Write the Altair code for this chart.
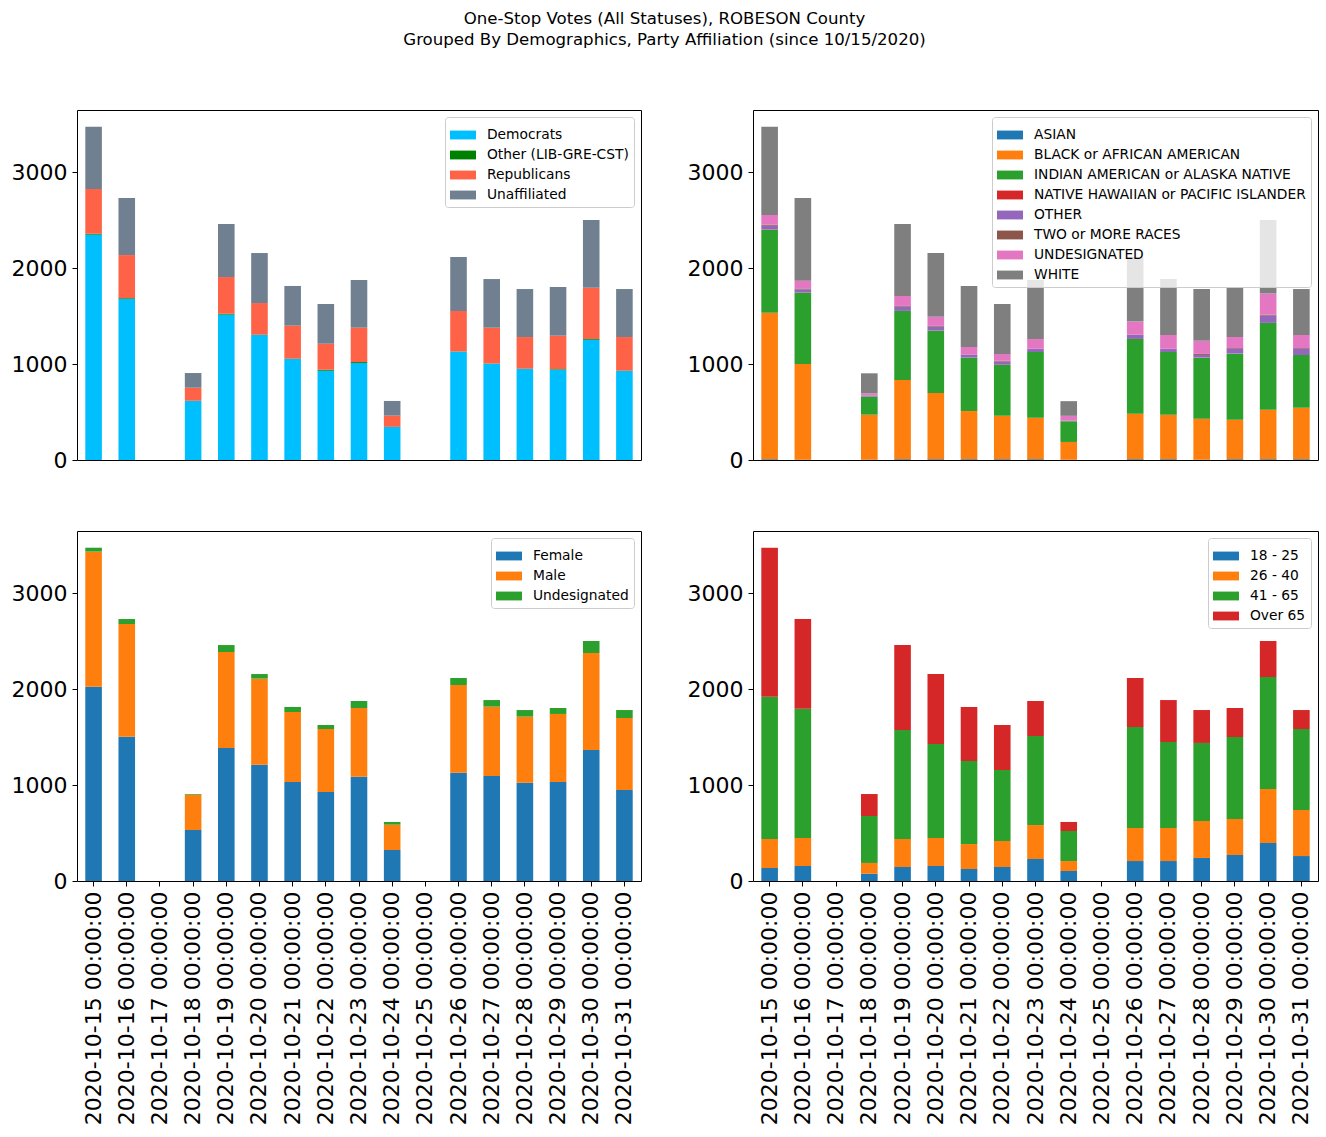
import altair as alt
import pandas as pd

# ---------------- data ----------------
dates = [
    "2020-10-15 00:00:00", "2020-10-16 00:00:00", "2020-10-17 00:00:00",
    "2020-10-18 00:00:00", "2020-10-19 00:00:00", "2020-10-20 00:00:00",
    "2020-10-21 00:00:00", "2020-10-22 00:00:00", "2020-10-23 00:00:00",
    "2020-10-24 00:00:00", "2020-10-25 00:00:00", "2020-10-26 00:00:00",
    "2020-10-27 00:00:00", "2020-10-28 00:00:00", "2020-10-29 00:00:00",
    "2020-10-30 00:00:00", "2020-10-31 00:00:00",
]

# Party affiliation
party_names = ["Democrats", "Other (LIB-GRE-CST)", "Republicans", "Unaffiliated"]
party_colors = ["#00bfff", "#008000", "#ff6347", "#708090"]
democrats = [2347, 1677, 0, 615, 1514, 1302, 1052, 931, 1010, 344, 0, 1128, 1003, 948, 941, 1253, 927]
other_party = [10, 8, 0, 2, 10, 3, 3, 8, 10, 1, 0, 3, 3, 3, 6, 8, 3]
republicans = [466, 450, 0, 136, 382, 330, 344, 273, 358, 117, 0, 421, 372, 330, 348, 534, 351]
unaffiliated = [649, 594, 0, 153, 552, 521, 414, 413, 497, 153, 0, 563, 507, 500, 507, 705, 500]

# Race
race_names = ["ASIAN", "BLACK or AFRICAN AMERICAN", "INDIAN AMERICAN or ALASKA NATIVE",
              "NATIVE HAWAIIAN or PACIFIC ISLANDER", "OTHER", "TWO or MORE RACES",
              "UNDESIGNATED", "WHITE"]
race_colors = ["#1f77b4", "#ff7f0e", "#2ca02c", "#d62728", "#9467bd", "#8c564b", "#e377c2", "#7f7f7f"]
asian = [8, 3, 0, 3, 8, 8, 8, 8, 8, 3, 0, 8, 8, 3, 8, 8, 8]
black = [1527, 997, 0, 469, 825, 690, 502, 454, 433, 185, 0, 475, 464, 428, 412, 516, 537]
indian = [864, 743, 0, 188, 719, 649, 556, 528, 684, 215, 0, 777, 653, 635, 688, 903, 549]
hawaiian = [2, 1, 0, 0, 1, 1, 0, 1, 0, 0, 0, 1, 0, 1, 0, 1, 0]
other_race = [40, 35, 0, 10, 45, 42, 31, 34, 31, 5, 0, 42, 31, 28, 52, 76, 66]
two_more = [10, 7, 0, 3, 7, 7, 3, 10, 3, 3, 0, 3, 3, 10, 7, 10, 7]
undesig_race = [101, 80, 0, 22, 104, 94, 77, 70, 101, 49, 0, 136, 143, 136, 114, 220, 135]
white = [920, 864, 0, 208, 750, 666, 636, 521, 615, 153, 0, 674, 583, 541, 521, 767, 479]

# Gender
gender_names = ["Female", "Male", "Undesignated"]
gender_colors = ["#1f77b4", "#ff7f0e", "#2ca02c"]
female = [2024, 1503, 0, 531, 1385, 1212, 1031, 927, 1087, 323, 0, 1128, 1094, 1024, 1031, 1365, 948]
male = [1407, 1174, 0, 368, 1000, 896, 729, 656, 715, 264, 0, 914, 722, 688, 709, 1010, 750]
undesig_gender = [41, 52, 0, 7, 73, 48, 53, 42, 73, 28, 0, 73, 69, 69, 62, 125, 83]

# Age
age_names = ["18 - 25", "26 - 40", "41 - 65", "Over 65"]
age_colors = ["#1f77b4", "#ff7f0e", "#2ca02c", "#d62728"]
age_18_25 = [135, 156, 0, 76, 146, 156, 125, 146, 229, 104, 0, 208, 208, 240, 271, 396, 260]
age_26_40 = [303, 292, 0, 112, 292, 292, 260, 271, 354, 104, 0, 344, 344, 385, 375, 562, 480]
age_41_65 = [1482, 1347, 0, 489, 1135, 979, 865, 739, 927, 313, 0, 1052, 896, 813, 854, 1167, 843]
age_over_65 = [1552, 934, 0, 229, 885, 729, 563, 469, 365, 94, 0, 511, 437, 343, 302, 375, 198]

y_ticks = [0, 1000, 2000, 3000]
y_max = 3646

# ---------------- helpers ----------------
LABEL_FONT = "DejaVu Sans"
TICK_FS = 22
LEGEND_SYMBOL = "M-1,-0.34L1,-0.34L1,0.34L-1,0.34Z"


def long_table(names, series):
    rows = []
    for i, (name, vals) in enumerate(zip(names, series)):
        for d, v in zip(dates, vals):
            rows.append({"date": d, "cat": name, "value": v, "idx": i})
    return pd.DataFrame(rows)


def panel(names, colors, series, show_x, width):
    df = long_table(names, series)
    x_scale = alt.Scale(domain=dates, paddingInner=0.5, paddingOuter=0.25)
    if show_x:
        x_axis = alt.Axis(title=None, labelAngle=270, labelOverlap=False,
                          labelLimit=500,
                          labelFontSize=TICK_FS, labelFont=LABEL_FONT,
                          tickSize=5, labelPadding=5, domain=False,
                          tickColor="black", labelColor="black")
        x = alt.X("date:N", sort=dates, scale=x_scale, axis=x_axis)
    else:
        x = alt.X("date:N", sort=dates, scale=x_scale, axis=None)
    y = alt.Y("value:Q", stack="zero",
              scale=alt.Scale(domain=[0, y_max], nice=False, zero=True),
              axis=alt.Axis(title=None, values=y_ticks, format="d", grid=False,
                            domain=False, labelOverlap=False,
                            labelFontSize=TICK_FS, labelFont=LABEL_FONT,
                            tickSize=5, labelPadding=5,
                            tickColor="black", labelColor="black"))
    color = alt.Color("cat:N",
                      scale=alt.Scale(domain=names, range=colors),
                      legend=alt.Legend(title=None, orient="top-right", offset=7,
                                        fillColor="rgba(255,255,255,0.8)",
                                        strokeColor="#cccccc", cornerRadius=3,
                                        padding=5, labelFontSize=13.8,
                                        labelFont=LABEL_FONT, labelColor="black",
                                        labelLimit=500, labelOffset=11,
                                        symbolType=LEGEND_SYMBOL, symbolSize=676,
                                        symbolStrokeWidth=0, symbolOpacity=1,
                                        rowPadding=0, zindex=1))
    return (
        alt.Chart(df)
        .mark_bar()
        .encode(x=x, y=y, color=color,
                order=alt.Order("idx:Q", sort="ascending"))
        .properties(width=width, height=350)
    )


top_left = panel(party_names, party_colors,
                 [democrats, other_party, republicans, unaffiliated], False, 564)
top_right = panel(race_names, race_colors,
                  [asian, black, indian, hawaiian, other_race, two_more, undesig_race, white], False, 565)
bottom_left = panel(gender_names, gender_colors, [female, male, undesig_gender], True, 564)
bottom_right = panel(age_names, age_colors, [age_18_25, age_26_40, age_41_65, age_over_65], True, 565)

row1 = alt.hconcat(top_left, top_right, spacing=44).resolve_scale(color="independent")
row2 = alt.hconcat(bottom_left, bottom_right, spacing=44).resolve_scale(color="independent")

chart = (
    alt.vconcat(row1, row2, spacing=58)
    .resolve_scale(color="independent")
    .properties(
        title=alt.TitleParams(
            text=["One-Stop Votes (All Statuses), ROBESON County",
                  "Grouped By Demographics, Party Affiliation (since 10/15/2020)"],
            anchor="middle", fontSize=16.6, font=LABEL_FONT, fontWeight="normal",
            lineHeight=21, offset=61, color="black"),
        padding={"left": 10, "top": 10, "right": 4, "bottom": 5},
        background="white",
    )
    .configure_view(stroke="black", strokeWidth=1)
)

chart.save("out.html", embed_options={"renderer": "svg", "actions": False})
